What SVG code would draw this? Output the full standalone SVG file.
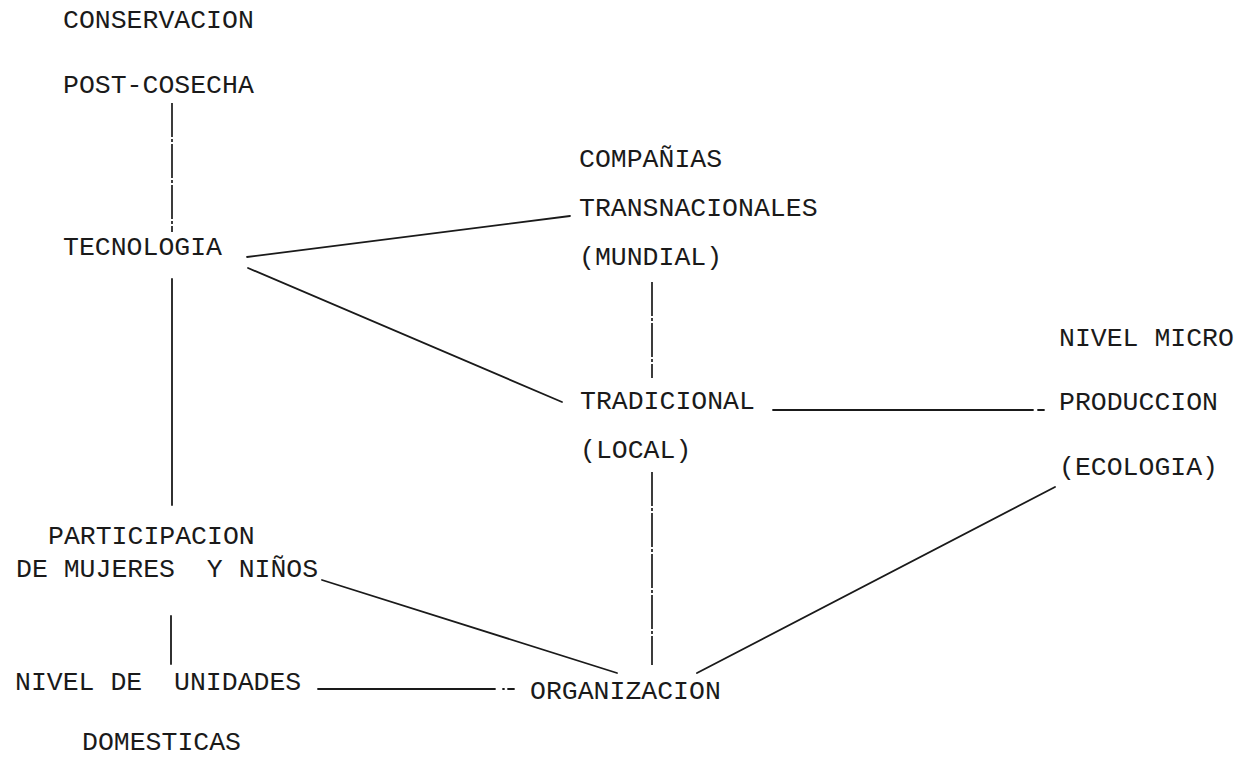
<svg xmlns="http://www.w3.org/2000/svg" width="1249" height="759" viewBox="0 0 1249 759">
<style>
text{font-family:"Liberation Mono","Courier New",monospace;font-size:26.5px;fill:#1a1a1a;white-space:pre}
.ln{stroke:#1a1a1a;stroke-width:1.8;fill:none;stroke-linecap:round}
.dl{stroke:#1a1a1a;stroke-width:1.7;fill:none;stroke-dasharray:34 2 3 2}
</style>
<rect width="1249" height="759" fill="#ffffff"/>
<g id="connectors">
<line class="dl" x1="172" y1="103" x2="172" y2="232"/>
<line class="ln" x1="172" y1="279" x2="172" y2="505"/>
<line class="ln" x1="171" y1="616" x2="171" y2="664"/>
<line class="dl" x1="652" y1="282" x2="652" y2="378"/>
<line class="dl" x1="652" y1="472" x2="652" y2="665"/>
<line class="ln" x1="247" y1="257" x2="570" y2="216"/>
<line class="ln" x1="248" y1="268" x2="562" y2="402"/>
<line class="ln" x1="322" y1="580" x2="617" y2="673"/>
<line class="ln" x1="697" y1="673" x2="1055" y2="487"/>
<line class="ln" x1="773" y1="410" x2="1033" y2="410"/>
<line class="ln" x1="1038" y1="410" x2="1044" y2="410"/>
<line class="ln" x1="318" y1="689" x2="495" y2="689"/>
<line class="ln" x1="503" y1="689" x2="504" y2="689"/>
<line class="ln" x1="508" y1="689" x2="514" y2="689"/>
</g>
<g id="conservacion"><text x="63" y="28">CONSERVACION</text><text x="63" y="93">POST-COSECHA</text></g>
<g id="tecnologia"><text x="63" y="255">TECNOLOGIA</text></g>
<g id="companias"><text x="579" y="167">COMPAÑIAS</text><text x="579" y="216">TRANSNACIONALES</text><text x="579" y="265">(MUNDIAL)</text></g>
<g id="tradicional"><text x="580" y="409">TRADICIONAL</text><text x="580" y="458">(LOCAL)</text></g>
<g id="produccion"><text x="1059" y="346">NIVEL MICRO</text><text x="1059" y="410">PRODUCCION</text><text x="1059" y="475">(ECOLOGIA)</text></g>
<g id="participacion"><text x="48" y="544">PARTICIPACION</text><text x="16" y="577" xml:space="preserve">DE MUJERES  Y NIÑOS</text></g>
<g id="unidades"><text x="15" y="690" xml:space="preserve">NIVEL DE  UNIDADES</text><text x="82" y="750">DOMESTICAS</text></g>
<g id="organizacion"><text x="530" y="699">ORGANIZACION</text></g>
</svg>
